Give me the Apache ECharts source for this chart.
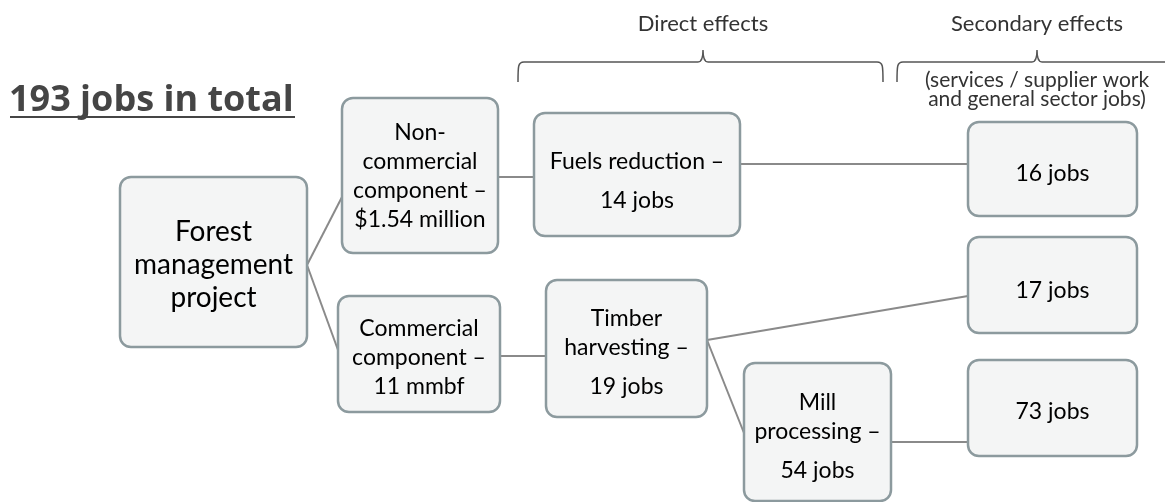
<!DOCTYPE html>
<html>
<head>
<meta charset="utf-8">
<script src="https://cdn.jsdelivr.net/npm/echarts@6/dist/echarts.min.js"></script>
<style>
  html, body { margin: 0; padding: 0; background: #fff; }
  #chart { width: 1165px; height: 502px; }
</style>
</head>
<body>
<div id="chart"></div>
<script>
// 数据
const totalJobs = 193
const projectLabel = ['Forest', 'management', 'project']
const componentLabels = [
  ['Non-', 'commercial', 'component –', '$1.54 million'],
  ['Commercial', 'component –', '11 mmbf']
]
const directLabels = [['Fuels reduction –'], ['Timber', 'harvesting –'], ['Mill', 'processing –']]
const directJobs = [14, 19, 54]
const secondaryJobs = [16, 17, 73]
const effectHeaders = ['Direct effects', 'Secondary effects']
const secondaryNote = ['(services / supplier work', 'and general sector jobs)']

// 版面（像素坐标，隐藏坐标轴上）
// 方框：[x0, y0, x1, y1, 文字中心 y]
const nodeBoxes = [
  [120, 177, 307, 347, 265],
  [342, 98, 498, 253, 176],
  [338, 296, 500, 412, 358],
  [534, 113, 740, 236, 186],
  [546, 280, 707, 417, 358],
  [744, 363, 891, 501, 442],
  [968, 122, 1137, 216, 174],
  [968, 237, 1137, 333, 291],
  [968, 360, 1137, 456, 412]
]
// 连线：[起点, 终点, 起点 y, 终点 y]
const edges = [
  [0, 1, 265, 197],
  [0, 2, 265, 350],
  [1, 3, 177, 177],
  [3, 6, 164, 164],
  [2, 4, 356, 356],
  [4, 7, 340, 296],
  [4, 5, 340, 433],
  [5, 8, 442, 442]
]
// 括号：[左 x, 右 x, 横线 y, 尖点 x]
const braces = [
  [518, 883, 62, 703],
  [897, 1185, 62, 1037]
]

const FONT = 'Lato, "Open Sans", sans-serif'
const TEXT_COLOR = '#333'

// 每个方框的文字行
function nodeLines(i) {
  if (i === 0) return { lines: projectLabel, last: null }
  if (i <= 2) return { lines: componentLabels[i - 1], last: null }
  if (i <= 5) return { lines: directLabels[i - 3], last: directJobs[i - 3] + ' jobs' }
  return { lines: [secondaryJobs[i - 6] + ' jobs'], last: null }
}

const chart = echarts.init(document.getElementById('chart'), null, { renderer: 'canvas' })

chart.setOption({
  animation: false,
  grid: { left: 0, right: 0, top: 0, bottom: 0 },
  xAxis: { type: 'value', min: 0, max: 1165, show: false },
  yAxis: { type: 'value', min: 0, max: 502, inverse: true, show: false },
  graphic: [
    {
      type: 'text',
      x: 9,
      y: 101,
      style: {
        text: totalJobs + ' jobs in total',
        font: 'bold 36px "Open Sans", sans-serif',
        fill: '#454545',
        verticalAlign: 'middle'
      }
    },
    {
      type: 'rect',
      shape: { x: 10, y: 116, width: 285, height: 2 },
      style: { fill: '#454545' }
    }
  ],
  series: [
    {
      type: 'lines',
      coordinateSystem: 'cartesian2d',
      z: 1,
      lineStyle: { color: '#8a8a8a', width: 2, opacity: 1 },
      data: edges.map(e => ({
        coords: [[nodeBoxes[e[0]][2], e[2]], [nodeBoxes[e[1]][0], e[3]]]
      }))
    },
    {
      type: 'custom',
      coordinateSystem: 'cartesian2d',
      z: 2,
      clip: false,
      data: nodeBoxes.map((b, i) => [i]),
      renderItem(params, api) {
        const i = params.dataIndex
        const b = nodeBoxes[i]
        const p0 = api.coord([b[0], b[1]])
        const p1 = api.coord([b[2], b[3]])
        const tc = api.coord([(b[0] + b[2]) / 2, b[4]])
        const info = nodeLines(i)
        let text = info.lines.map(s => '{a|' + s + '}').join('\n')
        if (info.last) text += '\n{b|' + info.last + '}'
        const big = i === 0
        return {
          type: 'group',
          children: [
            {
              type: 'rect',
              shape: { x: p0[0], y: p0[1], width: p1[0] - p0[0], height: p1[1] - p0[1], r: 11 },
              style: { fill: '#f4f5f5', stroke: '#8c9a9e', lineWidth: 2.5 }
            },
            {
              type: 'text',
              x: tc[0],
              y: tc[1],
              style: {
                text: text,
                align: 'center',
                verticalAlign: 'middle',
                rich: {
                  a: { fontFamily: FONT, fontSize: big ? 28 : 23, lineHeight: big ? 33 : 29, color: TEXT_COLOR, align: 'center' },
                  b: { fontFamily: FONT, fontSize: 23, lineHeight: 49, color: TEXT_COLOR, align: 'center' }
                }
              }
            }
          ]
        }
      }
    },
    {
      type: 'custom',
      coordinateSystem: 'cartesian2d',
      z: 2,
      clip: false,
      data: braces.map((b, i) => [i]),
      renderItem(params, api) {
        const i = params.dataIndex
        const b = braces[i]
        const L = api.coord([b[0], b[2]])
        const R = api.coord([b[1], b[2]])
        const P = api.coord([b[3], b[2]])
        const y = L[1]
        const d = 'M' + L[0] + ' ' + (y + 20) +
          ' C' + L[0] + ' ' + (y + 4) + ' ' + L[0] + ' ' + y + ' ' + (L[0] + 6) + ' ' + y +
          ' L' + (P[0] - 5) + ' ' + y +
          ' C' + (P[0] - 1) + ' ' + y + ' ' + P[0] + ' ' + (y - 6) + ' ' + P[0] + ' ' + (y - 12) +
          ' C' + P[0] + ' ' + (y - 6) + ' ' + (P[0] + 1) + ' ' + y + ' ' + (P[0] + 5) + ' ' + y +
          ' L' + (R[0] - 6) + ' ' + y +
          ' C' + R[0] + ' ' + y + ' ' + R[0] + ' ' + (y + 4) + ' ' + R[0] + ' ' + (y + 20)
        const children = [
          {
            type: 'path',
            shape: { pathData: d },
            style: { fill: null, stroke: '#555', lineWidth: 1.5 }
          },
          {
            type: 'text',
            x: P[0],
            y: api.coord([0, 24])[1],
            style: {
              text: effectHeaders[i],
              font: '22px ' + FONT,
              fill: TEXT_COLOR,
              align: 'center',
              verticalAlign: 'middle'
            }
          }
        ]
        if (i === 1) {
          children.push({
            type: 'text',
            x: P[0],
            y: api.coord([0, 90])[1],
            style: {
              text: secondaryNote.join('\n'),
              font: '21px ' + FONT,
              lineHeight: 19,
              fill: TEXT_COLOR,
              align: 'center',
              verticalAlign: 'middle'
            }
          })
        }
        return { type: 'group', children: children }
      }
    }
  ]
})
</script>
</body>
</html>
